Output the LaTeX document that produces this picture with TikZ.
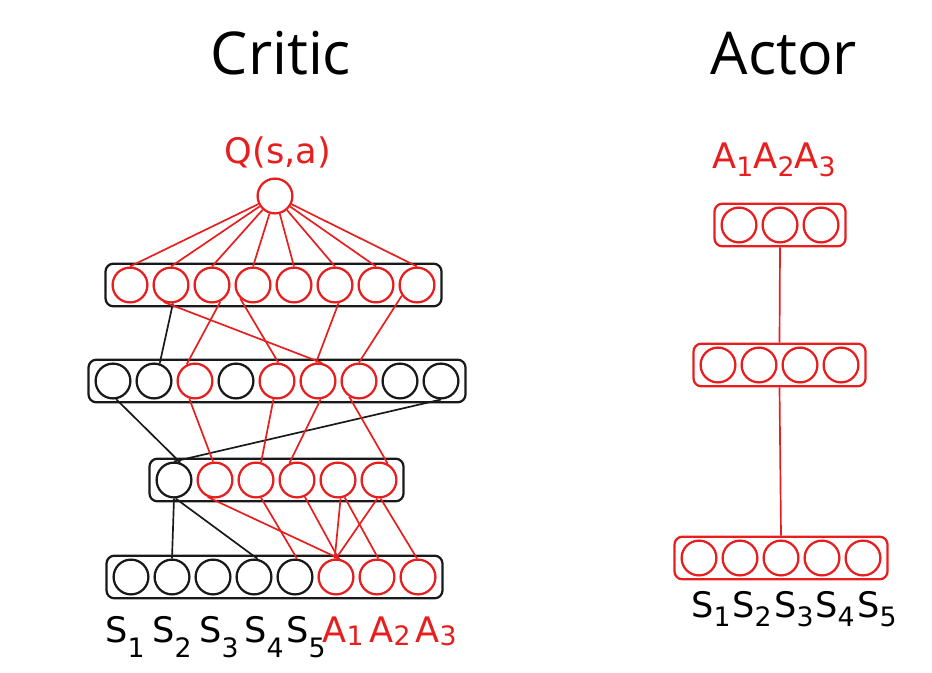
\documentclass[tikz,border=0pt]{standalone}
\usepackage{fontspec}
\setmainfont{DejaVu Sans}
\newfontfamily\titlefont{Open Sans}
\usetikzlibrary{fit}
\definecolor{nnred}{RGB}{232,30,30}
\definecolor{nndark}{RGB}{25,25,25}
\newcommand{\varlab}[3]{#1\raisebox{-#3}{\fontsize{19}{19}\selectfont #2}}

\begin{document}
\begin{tikzpicture}[x=0.025cm, y=-0.025cm,
    neuron/.style={circle, draw=nndark, line width=1.6pt, minimum size=0.87cm, inner sep=0pt},
    layerbox/.style={draw=nndark, rectangle, rounded corners=0.2cm, line width=1.6pt, inner xsep=0.15cm, inner ysep=0.07cm},
    link/.style={line width=1.2pt},
    lbl/.style={anchor=base, font=\fontsize{25}{25}\selectfont}]
    \useasboundingbox (0,0) rectangle (932,672);

    % Titles
    \node[anchor=base, font={\fontsize{42}{42}\titlefont}] (critic) at (281,74) {Critic};
    \node[anchor=base, font={\fontsize{42}{42}\titlefont}] (actor) at (784,74) {Actor};

    % Critic: output
    \node[lbl, text=nnred] (qval) at (278,163) {Q(s,a)};
    \node[neuron, draw=nnred] (top) at (275,196) {};

    % Critic: layers
    \foreach \i in {1,...,8}
        \node[neuron, draw=nnred] (l1c\i) at ({89+41*\i},285) {};
    \foreach \i/\c in {1/nndark,2/nndark,3/nnred,4/nndark,5/nnred,6/nnred,7/nnred,8/nndark,9/nndark}
        \node[neuron, draw=\c] (l2c\i) at ({72+41*\i},381) {};
    \foreach \i/\c in {1/nndark,2/nnred,3/nnred,4/nnred,5/nnred,6/nnred}
        \node[neuron, draw=\c] (l3c\i) at ({133+41*\i},480) {};
    \foreach \i/\c in {1/nndark,2/nndark,3/nndark,4/nndark,5/nndark,6/nnred,7/nnred,8/nnred}
        \node[neuron, draw=\c] (l4c\i) at ({90+41*\i},577) {};
    \node[layerbox, fit=(l1c1)(l1c8)] (b1) {};
    \node[layerbox, fit=(l2c1)(l2c9)] (b2) {};
    \node[layerbox, fit=(l3c1)(l3c6)] (b3) {};
    \node[layerbox, fit=(l4c1)(l4c8)] (b4) {};

    % Critic: inputs
    \foreach \n/\x in {1/125,2/172,3/219,4/264,5/306}
        \node[lbl] (cs\n) at (\x,642) {\varlab{S}{\n}{11pt}};
    \foreach \n/\x in {1/343,2/390,3/436}
        \node[lbl, text=nnred] (ca\n) at (\x,642) {\varlab{A}{\n}{2.5pt}};

    % Critic: connections
    \foreach \i in {1,...,8}
        \draw[link, nnred] (top) -- (l1c\i.north);
    \foreach \a/\b/\c in {l1c2.276/l2c2.72/nndark, l1c2.247/l2c6.77/nnred,
        l1c3.297/l2c3.117/nnred, l1c4.226/l2c5.86/nnred,
        l1c6.281/l2c6.96/nnred, l1c8.215/l2c7.north/nnred}
        \draw[link, draw=\c] (\a) -- (\b);
    \foreach \a/\b/\c in {l2c1.280/l3c1.70/nndark, l2c9.south/l3c1.north/nndark,
        l2c3.252/l3c2.96/nnred, l2c5.259/l3c3.74/nnred,
        l2c6.278/l3c4.114/nnred, l2c7.238/l3c6.62/nnred}
        \draw[link, draw=\c] (\a) -- (\b);
    \foreach \a/\b/\c in {l3c1.south/l4c2.north/nndark, l3c1.275/l4c4.79/nndark,
        l3c2.247/l4c6.78/nnred, l3c3.286/l4c5.84/nnred,
        l3c4.295/l4c6.82/nnred, l3c5.278/l4c6.94/nnred,
        l3c5.291/l4c7.86/nnred, l3c6.265/l4c6.north/nnred,
        l3c6.275/l4c8.93/nnred}
        \draw[link, draw=\c] (\a) -- (\b);

    % Actor
    \node[lbl, text=nnred] (aout) at (774,168) {\varlab{A}{1}{6pt}\varlab{A}{2}{6pt}\varlab{A}{3}{6pt}};
    \foreach \i in {1,...,3}
        \node[neuron, draw=nnred] (a1c\i) at ({698+41*\i},225) {};
    \foreach \i in {1,...,4}
        \node[neuron, draw=nnred] (a2c\i) at ({677+41*\i},365) {};
    \foreach \i in {1,...,5}
        \node[neuron, draw=nnred] (a3c\i) at ({658+41*\i},558) {};
    \node[layerbox, draw=nnred, fit=(a1c1)(a1c3)] (ab1) {};
    \node[layerbox, draw=nnred, fit=(a2c1)(a2c4)] (ab2) {};
    \node[layerbox, draw=nnred, fit=(a3c1)(a3c5)] (ab3) {};
    \draw[link, nnred] (ab1.south) -- (ab2.north);
    \draw[link, nnred] (ab2.south) -- (ab3.north);
    \foreach \n/\x in {1/711,2/752,3/794,4/835,5/877}
        \node[lbl] (as\n) at (\x,617) {\varlab{S}{\n}{7pt}};
\end{tikzpicture}
\end{document}
